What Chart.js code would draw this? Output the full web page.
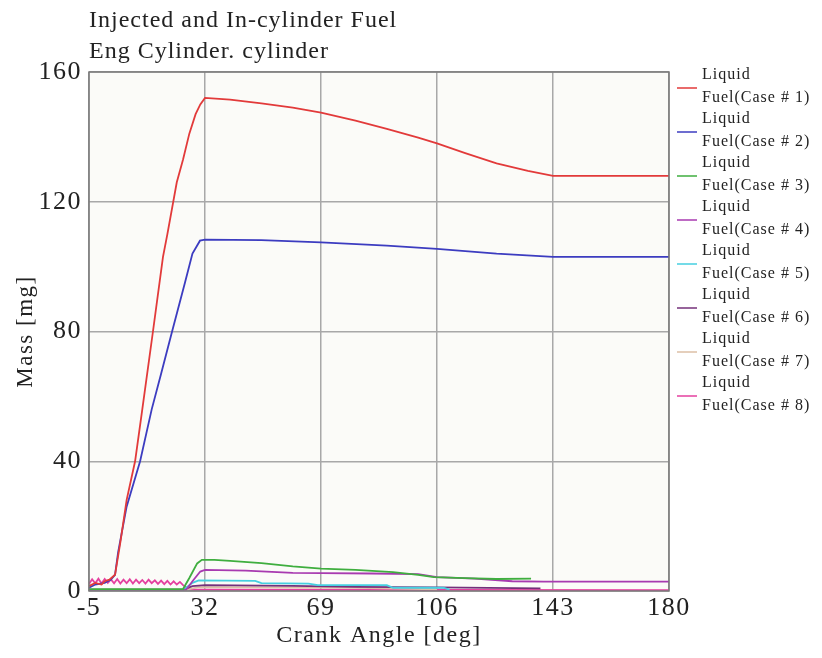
<!DOCTYPE html>
<html>
<head>
<meta charset="utf-8">
<script src="https://cdn.jsdelivr.net/npm/chart.js@4.4.1/dist/chart.umd.min.js"></script>
<style>
  html, body { margin: 0; padding: 0; background: #ffffff; }
  #wrap { position: relative; width: 822px; height: 658px; }
</style>
</head>
<body>
<div id="wrap"><canvas id="fuelChart" width="822" height="658"></canvas></div>
<script>
// Injected and in-cylinder liquid fuel mass vs crank angle
const titleLines = ['Injected and In-cylinder Fuel', 'Eng Cylinder. cylinder'];
const xTicks = [-5, 32, 69, 106, 143, 180];
const yTicks = [0, 40, 80, 120, 160];
const caseNames = ['Case # 1', 'Case # 2', 'Case # 3', 'Case # 4', 'Case # 5', 'Case # 6', 'Case # 7', 'Case # 8'];
const caseColors = ['#e23a3a', '#3c3cc0', '#3fae3f', '#a83ab0', '#46cfe0', '#74307a', '#dcbfa6', '#e4409f'];

// [crank angle, mass]
const case1 = [[-5,1.5],[-3,2.5],[-1,2],[0,3],[1.5,3.5],[3.3,5],[5,15],[7,28],[9.7,40],[12,56],[15.4,80],[18.6,103],[20,110],[23,126],[25,133],[27,141],[29,147],[30.5,150],[32,152],[40,151.5],[50,150.3],[60,149],[69,147.5],[80,145],[90,142.5],[100,139.8],[106,138],[115,135],[125,131.8],[135,129.5],[143,128],[180,128]];
const case2 = [[-5,1],[-3,2],[0,2.5],[2,3.5],[3.3,5],[4.3,12],[7,26],[11.3,40],[15,56],[18,67],[21.5,80],[25.6,95],[28,104],[30.4,108],[32,108.3],[50,108.2],[69,107.5],[90,106.5],[106,105.5],[125,104],[143,103],[180,103]];
const case3 = [[-5,0.6],[25,0.6],[27,4],[29.5,8.5],[31,9.6],[35,9.6],[40,9.3],[50,8.6],[60,7.6],[69,6.9],[80,6.5],[92,5.8],[100,5],[105,4.3],[115,4],[125,3.7],[136,3.8]];
const case4 = [[-5,0.4],[26,0.4],[28,3],[30.5,6],[32,6.5],[45,6.3],[60,5.6],[69,5.5],[85,5.4],[100,5.2],[106,4.3],[118,3.8],[130,3],[140,2.9],[180,2.9]];
const case5 = [[25,0.3],[28,2.5],[30,3.3],[48,3.1],[50,2.4],[65,2.3],[68,1.8],[90,1.8],[92,1.0],[108,1.0],[110,0.4]];
const case6 = [[25,0.4],[28,1.5],[32,1.8],[60,1.6],[80,1.3],[106,1.1],[139,0.8]];
const case7 = [[25,0.2],[30,1.2],[80,1.0],[106,0.5]];
const case8 = [[-5,2.2],[-4,3.6],[-3,2.4],[-2,3.8],[-1,2.3],[0,3.7],[1,2.5],[2,3.6],[3,2.4],[4,3.7],[5,2.3],[6,3.5],[7,2.4],[8,3.6],[9,2.3],[10,3.5],[11,2.4],[12,3.4],[13,2.3],[14,3.5],[15,2.4],[16,3.3],[17,2.2],[18,3.2],[19,2.1],[20,3.1],[21,2.0],[22,3.0],[23,2.0],[24,2.8],[25,1.8],[27,0.5],[32,0.4],[180,0.3]];

const allCases = [case1, case2, case3, case4, case5, case6, case7, case8];

const serif = '"Liberation Serif", "Times New Roman", serif';

// Plot background + frame; wider letter spacing for axis text like the original
const frameBg = {
    id: 'frameBg',
    beforeDraw(chart) {
        const a = chart.chartArea, ctx = chart.ctx;
        ctx.save();
        ctx.fillStyle = '#fbfbf8';
        ctx.fillRect(a.left, a.top, a.right - a.left, a.bottom - a.top);
        ctx.restore();
        ctx.letterSpacing = '1.5px';
    },
    beforeDatasetsDraw(chart) {
        chart.ctx.letterSpacing = '0px';
    },
    afterDatasetsDraw(chart) {
        const a = chart.chartArea, ctx = chart.ctx;
        ctx.save();
        ctx.strokeStyle = '#7a7a7a';
        ctx.lineWidth = 1.5;
        ctx.strokeRect(a.left, a.top, a.right - a.left, a.bottom - a.top);
        ctx.restore();
    }
};

// Two-line title at top left
const titleText = {
    id: 'titleText',
    afterDraw(chart) {
        const ctx = chart.ctx;
        ctx.save();
        ctx.fillStyle = '#222';
        ctx.font = '24px ' + serif;
        ctx.letterSpacing = '1px';
        ctx.textBaseline = 'middle';
        titleLines.forEach((t, i) => ctx.fillText(t, 89, 21 + i * 31));
        ctx.letterSpacing = '0px';
        ctx.restore();
    }
};

// Legend on the right, "Liquid" over "Fuel(Case # n)"
const sideLegend = {
    id: 'sideLegend',
    afterDraw(chart) {
        const ctx = chart.ctx;
        ctx.save();
        ctx.font = '16px ' + serif;
        ctx.letterSpacing = '1px';
        ctx.textBaseline = 'middle';
        chart.data.datasets.forEach((ds, i) => {
            const y = 88 + i * 44;
            ctx.strokeStyle = ds.borderColor;
            ctx.lineWidth = 1.5;
            ctx.beginPath();
            ctx.moveTo(677, y);
            ctx.lineTo(697, y);
            ctx.stroke();
            ctx.fillStyle = '#222';
            ctx.fillText('Liquid', 702, y - 13);
            ctx.fillText('Fuel(' + caseNames[i] + ')', 702, y + 10);
        });
        ctx.letterSpacing = '0px';
        ctx.restore();
    }
};

new Chart(document.getElementById('fuelChart'), {
    type: 'line',
    data: {
        datasets: allCases.map((pts, i) => ({
            label: 'Liquid Fuel(' + caseNames[i] + ')',
            data: pts.map(p => ({ x: p[0], y: p[1] })),
            borderColor: caseColors[i],
            borderWidth: 1.8,
            pointRadius: 0,
            tension: 0,
            fill: false
        }))
    },
    options: {
        responsive: false,
        animation: false,
        layout: { padding: { top: 72, right: 153, left: 0, bottom: 0 } },
        scales: {
            x: {
                type: 'linear',
                min: -5,
                max: 180,
                afterFit(scale) { scale.height = 67; },
                afterBuildTicks(scale) { scale.ticks = xTicks.map(v => ({ value: v })); },
                grid: { color: '#a8a8a8', lineWidth: 1.5, drawTicks: false },
                border: { display: false },
                ticks: { color: '#222', padding: 2, font: { family: serif, size: 26 }, maxRotation: 0 },
                title: { display: true, text: 'Crank Angle [deg]', color: '#222', padding: { top: 0, bottom: 8 }, font: { family: serif, size: 24 } }
            },
            y: {
                min: 0,
                max: 160,
                afterFit(scale) { scale.width = 89; },
                afterBuildTicks(scale) { scale.ticks = yTicks.map(v => ({ value: v })); },
                grid: { color: '#a8a8a8', lineWidth: 1.5, drawTicks: false },
                border: { display: false },
                ticks: { color: '#222', padding: 7, font: { family: serif, size: 26 } },
                title: { display: true, text: 'Mass [mg]', color: '#222', padding: { top: 12, bottom: 0 }, font: { family: serif, size: 23 } }
            }
        },
        plugins: {
            legend: { display: false },
            title: { display: false },
            tooltip: { enabled: false }
        }
    },
    plugins: [frameBg, titleText, sideLegend]
});
</script>
</body>
</html>
